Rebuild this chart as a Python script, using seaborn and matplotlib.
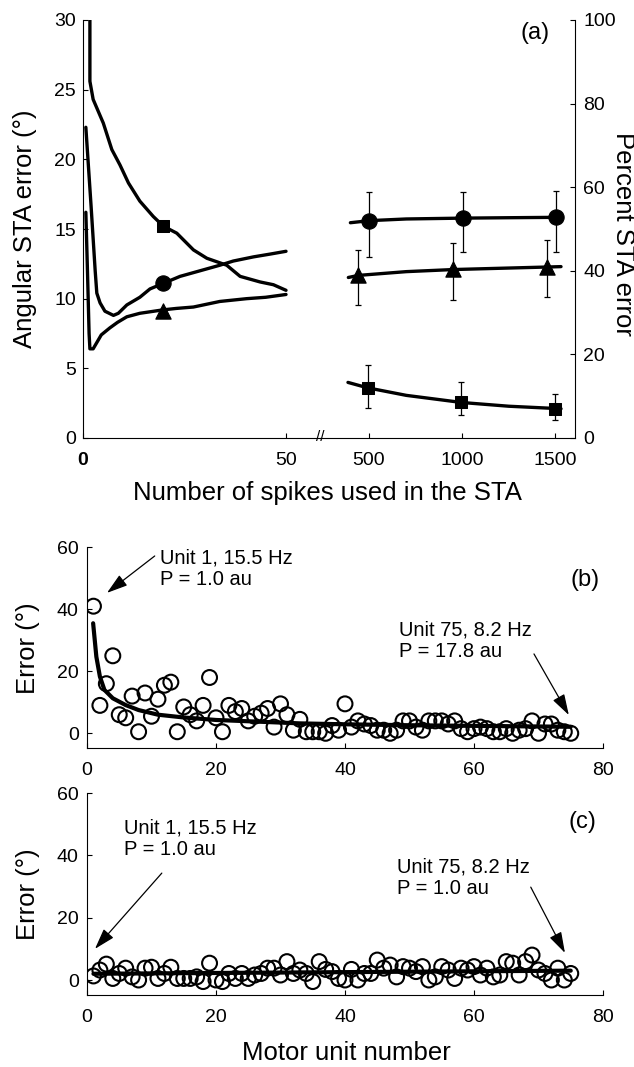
import numpy as np
import pandas as pd
import matplotlib
matplotlib.use("Agg")
import matplotlib.pyplot as plt
import seaborn as sns

# ---------------- data ----------------
# Panel (a), left part: angular STA error (deg) vs number of spikes (0-50)
sq_x = [1.7, 1.7, 2.5, 5.0, 7.1, 9.1, 11.2, 14.0, 17.3, 19.8, 23.1, 27.2, 30.5, 35.4, 38.7, 43.6, 46.9, 50.0]
sq_y = [30.0, 25.6, 24.3, 22.6, 20.7, 19.6, 18.3, 17.0, 15.9, 15.2, 14.7, 13.5, 12.9, 12.4, 11.6, 11.2, 11.0, 10.6]
ci_x = [0.7, 2.0, 3.0, 3.4, 4.2, 5.4, 7.5, 8.7, 10.8, 14.0, 16.5, 19.8, 23.9, 28.8, 33.7, 37.0, 42.0, 46.1, 50.0]
ci_y = [22.3, 16.6, 12.0, 10.4, 9.7, 9.1, 8.8, 8.95, 9.55, 10.1, 10.7, 11.1, 11.6, 12.0, 12.4, 12.7, 13.0, 13.2, 13.4]
tr_x = [0.7, 1.1, 1.5, 1.7, 2.5, 3.5, 4.5, 6.6, 8.5, 10.8, 14.0, 19.8, 23.0, 27.2, 33.7, 40.3, 45.0, 50.0]
tr_y = [16.2, 12.0, 7.5, 6.4, 6.4, 6.9, 7.4, 7.9, 8.3, 8.7, 8.95, 9.2, 9.3, 9.4, 9.8, 10.0, 10.1, 10.3]
mark_left_x = [19.8]
mark_left_sq = [15.2]
mark_left_ci = [11.15]
mark_left_tr = [9.1]

# Panel (a), right part: percent STA error vs number of spikes (500-1500)
rc_x = [400, 502, 700, 1002, 1250, 1530]
rc_y = [51.5, 52.0, 52.4, 52.6, 52.7, 52.8]
rt_x = [389, 443, 700, 952, 1200, 1453, 1530]
rt_y = [38.4, 38.9, 39.8, 40.3, 40.6, 40.9, 41.0]
rs_x = [387, 493, 700, 996, 1250, 1530]
rs_y = [13.3, 12.0, 10.2, 8.5, 7.6, 7.0]

pc_x = [502, 1002, 1503]
pc_m = [52.0, 52.6, 52.8]
pc_lo = [43.4, 44.6, 44.6]
pc_hi = [58.8, 58.9, 59.2]
pt_x = [443, 952, 1453]
pt_m = [39.0, 40.4, 41.0]
pt_lo = [31.8, 33.0, 33.8]
pt_hi = [45.0, 46.6, 47.4]
ps_x = [493, 996, 1500]
ps_m = [12.0, 8.5, 7.0]
ps_lo = [7.2, 5.6, 4.2]
ps_hi = [17.4, 13.4, 10.5]

# Panel (b): error per motor unit
units = list(range(1, 76))
err_b = [41, 9, 16, 25, 6, 5, 12, 0.5, 13, 5.5, 11, 15.5, 16.5, 0.5, 8.5, 6, 4, 9, 18, 5,
         0.5, 9, 7, 8, 4, 5.5, 6.5, 8, 2, 9.5, 6, 1, 4.5, 0.5, 0.5, 0.5, 0, 2.5, 1, 9.5,
         2, 4, 3, 2.5, 1, 1, 0, 1, 4, 4, 2, 1, 4, 4, 4, 3, 4, 1.5, 0.5, 1.5,
         2, 1.5, 0.5, 0.5, 1.5, 0, 1, 1.5, 4, 0, 3, 3, 1, 0.5, 0]
fit_b_x = [0.95, 1.45, 2, 2.7, 4, 6, 8, 11, 15, 20, 26, 33, 40, 50, 60, 75]
fit_b_y = [35.5, 24.7, 18.3, 14.0, 11.3, 9.1, 7.5, 6.0, 5.1, 4.3, 3.8, 3.2, 2.9, 2.6, 2.4, 2.1]

# Panel (c)
err_c = [1.3, 3.2, 5.1, 0.5, 2.1, 3.8, 1, 0, 3.8, 4.1, 0.5, 2.1, 4.1, 0.5, 0.5, 0.5, 1, -0.5, 5.4, 0,
         -0.5, 2.1, 0.5, 2.1, 0.5, 1.6, 2.1, 3.8, 3.8, 1.6, 5.9, 2.1, 3.2, 2.1, -0.5, 5.9, 3.4, 2.7, 0.5, 0,
         3.4, 0, 2.1, 2.1, 6.4, 3.8, 4.8, 1, 4.3, 3.8, 2.7, 4.3, 0, 1, 4.3, 3.2, 0.5, 3.8, 3.2, 4.3,
         1.6, 3.8, 1, 1.6, 5.9, 5.4, 1.6, 5.9, 8, 3.2, 2.1, 0, 3.8, 0, 2.1]
fit_c_x = [1, 75]
fit_c_y = [2.0, 3.0]

# ---------------- style ----------------
sns.set_theme(style="ticks")
plt.rcParams["font.family"] = ["Liberation Sans", "DejaVu Sans"]
plt.rcParams.update({
    "axes.linewidth": 0.8,
    "xtick.direction": "in", "ytick.direction": "in",
    "xtick.major.size": 3.5, "ytick.major.size": 3.5,
    "xtick.major.width": 0.8, "ytick.major.width": 0.8,
    "xtick.labelsize": 14, "ytick.labelsize": 14,
    "xtick.color": "black", "ytick.color": "black",
    "axes.edgecolor": "black",
    "text.color": "black",
})

W, H = 634, 1067
fig = plt.figure(figsize=(W / 100, H / 100), dpi=100)


def rect(x0, y0, x1, y1):
    return [x0 / W, 1 - y1 / H, (x1 - x0) / W, (y1 - y0) / H]


def ftext(px, py, s, **kw):
    fig.text(px / W, 1 - py / H, s, **kw)


LW = 2.4
# ---- panel (a) left ----
axL = fig.add_axes(rect(83, 20, 320, 438))
axL.set_xlim(0, 58.37)
axL.set_ylim(0, 30)
for xs, ys in [(sq_x, sq_y), (ci_x, ci_y), (tr_x, tr_y)]:
    sns.lineplot(x=xs, y=ys, ax=axL, color="black", lw=LW, sort=False, estimator=None)
sns.scatterplot(x=mark_left_x, y=mark_left_sq, ax=axL, marker="s", s=85, color="black", edgecolor="black", zorder=5)
sns.scatterplot(x=mark_left_x, y=mark_left_ci, ax=axL, marker="o", s=120, color="black", edgecolor="black", zorder=5)
sns.scatterplot(x=mark_left_x, y=mark_left_tr, ax=axL, marker="^", s=120, color="black", edgecolor="black", zorder=5)
axL.set_xticks([0, 50])
axL.set_xticklabels(["0", "50"])
axL.get_xticklabels()[0].set_fontweight("bold")
axL.set_yticks([0, 5, 10, 15, 20, 25, 30])
axL.spines["top"].set_visible(False)
axL.spines["right"].set_visible(False)
axL.tick_params(axis="x", pad=10)
axL.tick_params(axis="y", pad=5)
axL.set_xlabel("")
axL.set_ylabel("")

# ---- panel (a) right ----
axR = fig.add_axes(rect(320, 20, 575, 438))
axR.patch.set_alpha(0)
axR.set_xlim(237, 1605)
axR.set_ylim(0, 100)
for xs, ys in [(rc_x, rc_y), (rt_x, rt_y), (rs_x, rs_y)]:
    sns.lineplot(x=xs, y=ys, ax=axR, color="black", lw=LW, sort=False, estimator=None)
for xs, m, lo, hi, mk, sz in [(pc_x, pc_m, pc_lo, pc_hi, "o", 120),
                              (pt_x, pt_m, pt_lo, pt_hi, "^", 120),
                              (ps_x, ps_m, ps_lo, ps_hi, "s", 85)]:
    m_a = np.array(m)
    axR.errorbar(xs, m_a, yerr=[m_a - np.array(lo), np.array(hi) - m_a], fmt="none",
                 ecolor="black", elinewidth=0.9, capsize=2.5, capthick=0.9, zorder=4)
    sns.scatterplot(x=xs, y=m, ax=axR, marker=mk, s=sz, color="black", edgecolor="black", zorder=5)
axR.set_xticks([500, 1000, 1500])
axR.set_yticks([0, 20, 40, 60, 80, 100])
axR.yaxis.tick_right()
axR.spines["top"].set_visible(False)
axR.spines["left"].set_visible(False)
axR.spines["right"].set_visible(True)
axR.tick_params(axis="x", pad=10)
axR.tick_params(axis="y", pad=6, left=False, right=True, labelleft=False, labelright=True)
axR.set_xlabel("")
axR.set_ylabel("")

ftext(320, 437, "//", ha="center", va="center", fontsize=11)
ftext(25, 229, "Angular STA error (\u00b0)", rotation=90, ha="center", va="center", fontsize=18.5)
ftext(623, 234, "Percent STA error", rotation=270, ha="center", va="center", fontsize=18.5)
ftext(327, 493, "Number of spikes used in the STA", ha="center", va="center", fontsize=18.5)
ftext(535, 33, "(a)", ha="center", va="center", fontsize=17)

arrow_kw = dict(arrowstyle="-|>,head_length=0.8,head_width=0.25", lw=0.9, color="black",
                shrinkA=0, shrinkB=0, mutation_scale=16)


def scatter_panel(y0, y1, err, fx, fy, ylo):
    ax = fig.add_axes(rect(87, y0, 603, y1))
    sns.scatterplot(x=units, y=err, ax=ax, marker="o", s=115, facecolor="none",
                    edgecolor="black", linewidth=1.5, zorder=3)
    sns.lineplot(x=fx, y=fy, ax=ax, color="black", lw=3.0, sort=False, estimator=None, zorder=4)
    ax.set_xlim(0, 80)
    ax.set_ylim(ylo, 60)
    ax.set_xticks([0, 20, 40, 60, 80])
    ax.set_yticks([0, 20, 40, 60])
    ax.spines["top"].set_visible(False)
    ax.spines["right"].set_visible(False)
    ax.tick_params(axis="x", pad=10)
    ax.tick_params(axis="y", pad=6)
    ax.set_xlabel("")
    ax.set_ylabel("")
    return ax


# ---- panel (b) ----
axb = scatter_panel(547.3, 748.3, err_b, fit_b_x, fit_b_y, -4.84)
axb.annotate("", xy=(3.1, 45.3), xytext=(10.5, 57.2), arrowprops=arrow_kw, annotation_clip=False)
axb.annotate("", xy=(74.7, 5.9), xytext=(69.3, 25.6), arrowprops=arrow_kw, annotation_clip=False)
ftext(160, 568.5, "Unit 1, 15.5 Hz\nP = 1.0 au", ha="left", va="center", fontsize=14.5, linespacing=1.15)
ftext(399, 641, "Unit 75, 8.2 Hz\nP = 17.8 au", ha="left", va="center", fontsize=14.5, linespacing=1.15)
ftext(585, 580, "(b)", ha="center", va="center", fontsize=17)
ftext(28, 648, "Error (\u00b0)", rotation=90, ha="center", va="center", fontsize=18.5)

# ---- panel (c) ----
axc = scatter_panel(793, 995, err_c, fit_c_x, fit_c_y, -4.81)
axc.annotate("", xy=(1.24, 10.0), xytext=(11.6, 34.3), arrowprops=arrow_kw, annotation_clip=False)
axc.annotate("", xy=(74.1, 8.7), xytext=(68.8, 29.8), arrowprops=arrow_kw, annotation_clip=False)
ftext(124, 838.5, "Unit 1, 15.5 Hz\nP = 1.0 au", ha="left", va="center", fontsize=14.5, linespacing=1.15)
ftext(397, 877.5, "Unit 75, 8.2 Hz\nP = 1.0 au", ha="left", va="center", fontsize=14.5, linespacing=1.15)
ftext(582, 822, "(c)", ha="center", va="center", fontsize=17)
ftext(28, 894, "Error (\u00b0)", rotation=90, ha="center", va="center", fontsize=18.5)
ftext(346, 1053, "Motor unit number", ha="center", va="center", fontsize=18.5)

fig.savefig("out.png", dpi=100, facecolor="white")
